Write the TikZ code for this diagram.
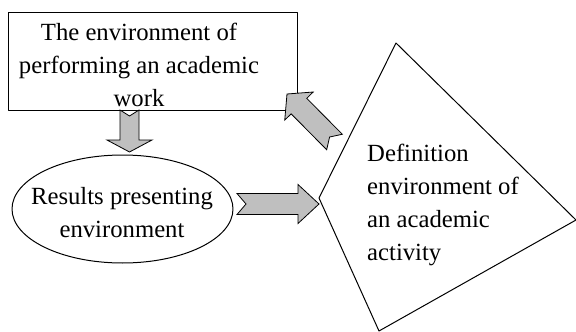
\documentclass[tikz,border=0pt]{standalone}
\usepackage{fontspec}
\setmainfont{Liberation Serif}
\usetikzlibrary{calc,shapes.geometric}

% notched block arrow: tail, tip, shaft half width, head half width, head length, notch depth
\newcommand{\blockarrow}[6]{%
  \coordinate (bahead) at ($(#2)!#5!(#1)$);
  \filldraw[arrowfill] ($(#1)!#6!(#2)$) -- ($(#1)!#3!90:(#2)$) -- ($(bahead)!#3!90:(#2)$)
    -- ($(bahead)!#4!90:(#2)$) -- (#2) -- ($(bahead)!#4!-90:(#2)$)
    -- ($(bahead)!#3!-90:(#2)$) -- ($(#1)!#3!-90:(#2)$) -- cycle;}

\tikzset{
  boxtext/.style={inner sep=0pt, font=\fontsize{24.7}{33}\selectfont},
  arrowfill/.style={fill=black!25, draw=black, line width=0.8pt, line join=miter}
}

\begin{document}
\begin{tikzpicture}[x=1pt, y=-1pt, line join=round]
    \useasboundingbox (0,0) rectangle (576,332);

    % rectangle: the working environment
    \node[draw, line width=1pt, minimum width=289pt, minimum height=98pt, inner sep=0pt] (workbox) at (152.5,61) {};
    \node[boxtext, align=center] (worktext) at (139,64.5) {The environment of\\performing an academic\\work};

    % ellipse: presenting results
    \node[draw, ellipse, line width=1pt, minimum width=221pt, minimum height=108pt, inner sep=0pt] (resultsell) at (122.5,209) {};
    \node[boxtext, align=center] (resultstext) at (122,213) {Results presenting\\environment};

    % quadrilateral: defining an activity
    \coordinate (QT) at (396,43);
    \coordinate (QR) at (576,220);
    \coordinate (QB) at (379,331);
    \coordinate (QL) at (319,198);
    \draw[line width=1pt] (QT) -- (QR) -- (QB) -- (QL) -- cycle;
    \node[boxtext, align=left, anchor=west] (deftext) at (367,205.2) {Definition\\environment of\\an academic\\activity};

    % block arrows between the three environments
    \coordinate (downtail) at (129.5,110);
    \coordinate (downtip) at (129.5,152);
    \blockarrow{downtail}{downtip}{9.5pt}{22.5pt}{12pt}{6pt}

    \coordinate (righttail) at (237,204);
    \coordinate (righttip) at (319,204);
    \blockarrow{righttail}{righttip}{10.5pt}{19.5pt}{21pt}{9pt}

    \coordinate (uptail) at (334.5,142);
    \coordinate (uptip) at (287,94);
    \blockarrow{uptail}{uptip}{11pt}{20pt}{17pt}{7pt}
\end{tikzpicture}
\end{document}
